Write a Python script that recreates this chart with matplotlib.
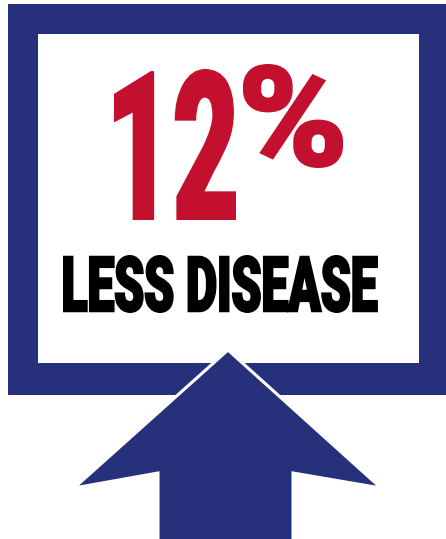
import matplotlib
matplotlib.use("Agg")
import matplotlib.pyplot as plt
from matplotlib.patches import Rectangle, Polygon
from matplotlib.patheffects import AbstractPathEffect
from matplotlib.transforms import Affine2D
from matplotlib.textpath import TextPath
from matplotlib.font_manager import FontProperties

# ---- data ----
percent_value = [12]
percent_sign = ["%"]
label_text = ["LESS DISEASE"]

BLUE = "#27307b"
RED = "#c4102f"
BLACK = "#000000"

W, H, DPI = 446, 539, 100
fig = plt.figure(figsize=(W / DPI, H / DPI), dpi=DPI)
ax = fig.add_axes([0, 0, 1, 1])
ax.set_xlim(0, W)
ax.set_ylim(H, 0)
ax.axis("off")

# frame
ax.add_patch(Rectangle((8, 4), 446 - 8, 395 - 4, facecolor=BLUE, edgecolor="none", zorder=1))
ax.add_patch(Rectangle((38, 34), 419 - 38, 363 - 34, facecolor="white", edgecolor="none", zorder=2))

# arrow
arrow = [(228, 350), (381, 488), (293, 473), (293, 560), (158, 560), (158, 473), (74, 488)]
ax.add_patch(Polygon(arrow, closed=True, facecolor=BLUE, edgecolor="white",
                     linewidth=2.2, joinstyle="miter", zorder=3))


class Squeeze(AbstractPathEffect):
    def __init__(self, sx, sy, stroke=0.0):
        super().__init__()
        self.sx, self.sy, self.stroke = sx, sy, stroke

    def draw_path(self, renderer, gc, tpath, affine, rgbFace=None):
        aff = Affine2D().scale(self.sx, self.sy) + affine
        if self.stroke:
            gc0 = renderer.new_gc()
            gc0.copy_properties(gc)
            gc0.set_linewidth(self.stroke)
            gc0.set_foreground(rgbFace)
            gc0.set_joinstyle("miter")
            renderer.draw_path(gc0, tpath, aff, rgbFace)
            gc0.restore()
        else:
            renderer.draw_path(gc, tpath, aff, rgbFace)


FP = FontProperties(family=["Roboto", "DejaVu Sans"], weight="black")


def fitted_text(s, box, color, size_pt=40, stroke_pt=0.0):
    x0, x1, ytop, ybot = box
    spx = stroke_pt * DPI / 72.0
    x0 += spx / 2; x1 -= spx / 2; ytop += spx / 2; ybot -= spx / 2
    tp = TextPath((0, 0), s, size=size_pt * DPI / 72.0, prop=FP)
    ext = tp.get_extents()
    sx = (x1 - x0) / ext.width
    sy = (ybot - ytop) / ext.height
    x = x0 - ext.x0 * sx
    y = ybot + ext.y0 * sy
    ax.text(x, y, s, fontproperties=FP, fontsize=size_pt, color=color,
            ha="left", va="baseline", zorder=5,
            path_effects=[Squeeze(sx, sy, stroke_pt)])


fitted_text(str(percent_value[0]), (114, 236, 69, 220), RED, stroke_pt=1.8)
fitted_text(percent_sign[0], (243, 343, 64, 168), RED, stroke_pt=1.8)
fitted_text(label_text[0], (63, 378, 255, 313), BLACK, stroke_pt=1.6)

fig.savefig("out.png", dpi=DPI)
